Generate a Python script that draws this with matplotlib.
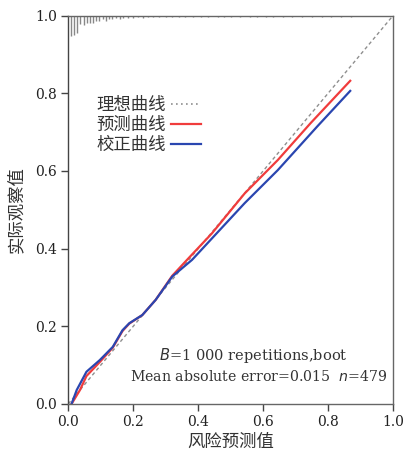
import matplotlib
matplotlib.use("Agg")
import matplotlib.pyplot as plt
from matplotlib.lines import Line2D

# ---- data ----
ideal_x = [0.0, 1.0]
ideal_y = [0.0, 1.0]

red_x = [0.010, 0.036, 0.056, 0.097, 0.137, 0.167, 0.188, 0.228, 0.269, 0.320, 0.370, 0.442, 0.543, 0.645, 0.746, 0.868]
red_y = [0.000, 0.036, 0.072, 0.108, 0.145, 0.188, 0.207, 0.229, 0.268, 0.330, 0.375, 0.439, 0.542, 0.628, 0.723, 0.832]

blue_x = [0.010, 0.026, 0.056, 0.097, 0.137, 0.167, 0.188, 0.228, 0.269, 0.320, 0.381, 0.543, 0.645, 0.766, 0.868]
blue_y = [0.000, 0.036, 0.083, 0.113, 0.147, 0.190, 0.208, 0.229, 0.268, 0.328, 0.371, 0.517, 0.602, 0.714, 0.806]

rug_x = [0.008, 0.017, 0.027, 0.037, 0.047, 0.057, 0.067, 0.076, 0.086, 0.096, 0.106, 0.116,
         0.126, 0.136, 0.146, 0.158, 0.170, 0.185, 0.200, 0.215, 0.230, 0.245, 0.260, 0.280,
         0.300, 0.320, 0.340, 0.360, 0.385, 0.410, 0.430, 0.460, 0.480, 0.500, 0.530, 0.560,
         0.580, 0.610, 0.630, 0.660, 0.690, 0.720, 0.750, 0.780, 0.810, 0.840, 0.870]
rug_h = [0.052, 0.050, 0.044, 0.022, 0.025, 0.018, 0.018, 0.020, 0.013, 0.013, 0.010, 0.013,
         0.010, 0.010, 0.007, 0.008, 0.007, 0.006, 0.006, 0.005, 0.006, 0.005, 0.005, 0.004,
         0.004, 0.004, 0.004, 0.004, 0.003, 0.004, 0.003, 0.003, 0.004, 0.003, 0.003, 0.003,
         0.003, 0.003, 0.003, 0.003, 0.003, 0.003, 0.003, 0.003, 0.003, 0.003, 0.003]

ticks = [0.0, 0.2, 0.4, 0.6, 0.8, 1.0]
tick_labels = ["0.0", "0.2", "0.4", "0.6", "0.8", "1.0"]
legend_labels = ["理想曲线", "预测曲线", "校正曲线"]
xlabel = "风险预测值"
ylabel = "实际观察值"

cjk = ["Noto Sans CJK SC", "DejaVu Sans"]
serif = ["DejaVu Serif"]

fig = plt.figure(figsize=(4.04, 4.57), dpi=100)
ax = fig.add_axes([0.169, 0.116, 0.804, 0.850])

ideal_color = "#8f8f8f"
red = "#f03c3c"
blue = "#2a46b0"

ax.plot(ideal_x, ideal_y, color=ideal_color, lw=1.0, ls=(0, (2.5, 2)))
ax.plot(red_x, red_y, color=red, lw=1.6)
ax.plot(blue_x, blue_y, color=blue, lw=1.6)
ax.vlines(rug_x, [1 - h for h in rug_h], 1.0, color="#888888", lw=1.0)

ax.set_xlim(0, 1)
ax.set_ylim(0, 1)
ax.set_xticks(ticks)
ax.set_yticks(ticks)
ax.set_xticklabels(tick_labels, fontfamily=serif, fontsize=10)
ax.set_yticklabels(tick_labels, fontfamily=serif, fontsize=10)
ax.tick_params(direction="out", length=5, width=1, colors="#444444", labelcolor="#222222", pad=3)

for s in ax.spines.values():
    s.set_color("#666666")
    s.set_linewidth(1.0)
ax.spines["left"].set_color("#444444")

ax.set_xlabel(xlabel, fontfamily=cjk, fontsize=12.5, color="#333333", labelpad=3)
ax.set_ylabel(ylabel, fontfamily=cjk, fontsize=12.5, color="#333333", labelpad=7)

handles = [
    Line2D([], [], color=ideal_color, lw=1.2, ls=(0, (1, 2))),
    Line2D([], [], color=red, lw=1.6),
    Line2D([], [], color=blue, lw=1.6),
]
leg = ax.legend(handles, legend_labels, loc="upper left", bbox_to_anchor=(0.087, 0.792),
                frameon=False, markerfirst=False, handlelength=1.7, handletextpad=0.3,
                labelspacing=0.1, borderpad=0, borderaxespad=0,
                prop={"family": cjk, "size": 12.5})
for t in leg.get_texts():
    t.set_color("#333333")

ax.text(0.57, 0.125, r"$\mathit{B}$=1 000 repetitions,boot", transform=ax.transAxes,
        ha="center", va="center", fontfamily=serif, fontsize=10.5, color="#333333")
ax.text(0.585, 0.07, r"Mean absolute error=0.015  $\mathit{n}$=479", transform=ax.transAxes,
        ha="center", va="center", fontfamily=serif, fontsize=10.2, color="#333333")

fig.savefig("out.png", dpi=100)
